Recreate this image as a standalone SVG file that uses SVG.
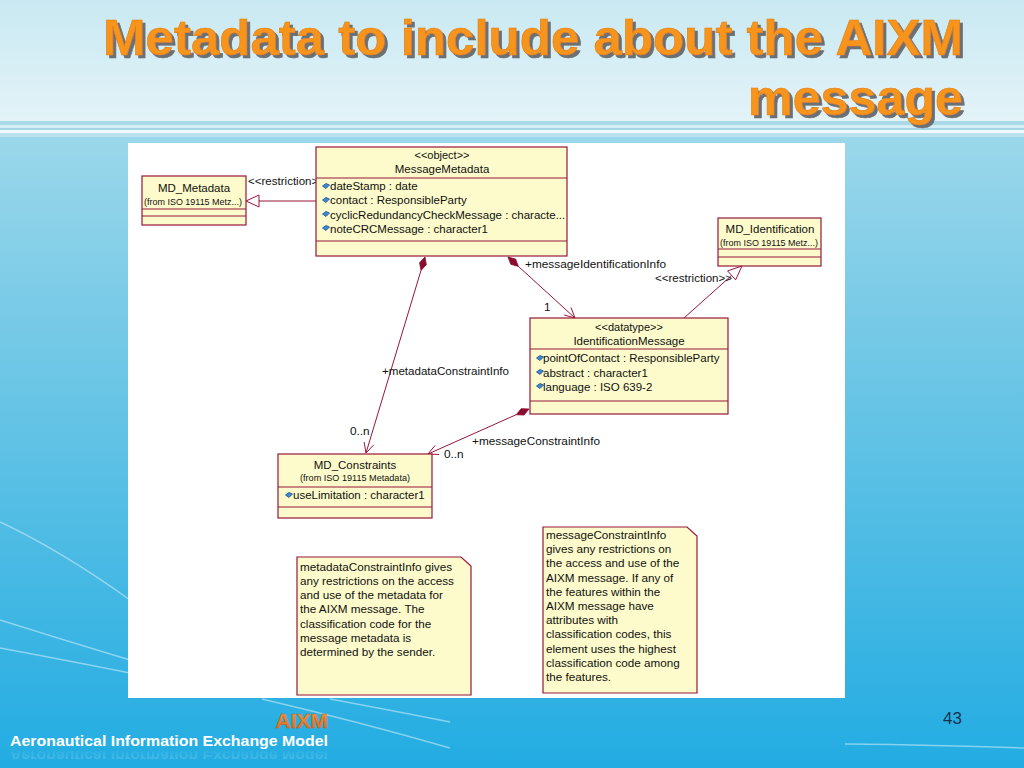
<svg xmlns="http://www.w3.org/2000/svg" width="1024" height="768" viewBox="0 0 1024 768">
<defs>
<linearGradient id="bgTop" x1="0" y1="0" x2="0" y2="1">
<stop offset="0" stop-color="#c9e9f2"/>
<stop offset="1" stop-color="#e3f3f8"/>
</linearGradient>
<linearGradient id="bgBody" x1="0" y1="0" x2="0" y2="1">
<stop offset="0" stop-color="#b6e1ed"/>
<stop offset="0.45" stop-color="#72c8e6"/>
<stop offset="1" stop-color="#22ace2"/>
</linearGradient>
<linearGradient id="aixmGrad" x1="0" y1="0" x2="0" y2="1">
<stop offset="0" stop-color="#f7a23c"/>
<stop offset="1" stop-color="#e2661a"/>
</linearGradient>
<linearGradient id="reflFade" x1="0" y1="0" x2="0" y2="1">
<stop offset="0" stop-color="#ffffff" stop-opacity="0.55"/>
<stop offset="1" stop-color="#ffffff" stop-opacity="0"/>
</linearGradient>
<filter id="titleShadow" x="-5%" y="-20%" width="110%" height="150%">
<feDropShadow dx="3" dy="3" stdDeviation="0.6" flood-color="#6a6f73" flood-opacity="1"/>
</filter>
<clipPath id="reflClip"><rect x="0" y="749" width="400" height="10"/></clipPath>
<symbol id="attr" viewBox="0 0 8 6" width="8" height="6">
<path d="M0.5 3 L4 0.5 L7.5 2 L4 5.5 Z" fill="#3c8ad8" stroke="#1d4f8a" stroke-width="0.8"/>
</symbol>
<style>
.box{fill:#fdfbcb;stroke:#98163a;stroke-width:1.2}
.sep{stroke:#98163a;stroke-width:1.2}
.t{font-family:"Liberation Sans",Arial,sans-serif;font-size:11.5px;fill:#111}
.tc{font-family:"Liberation Sans",Arial,sans-serif;font-size:11.5px;fill:#111;text-anchor:middle}
.ts{font-family:"Liberation Sans",Arial,sans-serif;font-size:9px;fill:#111;text-anchor:middle}
.st{font-family:"Liberation Sans",Arial,sans-serif;font-size:11px;fill:#111;text-anchor:middle}
.lbl{font-family:"Liberation Sans",Arial,sans-serif;font-size:11.8px;fill:#111}
.nt{font-family:"Liberation Sans",Arial,sans-serif;font-size:11.7px;fill:#111}
.ln{stroke:#98163a;stroke-width:1;fill:none}
.dia{fill:#8a0a30;stroke:#8a0a30;stroke-width:0.8}
.tri{fill:#ffffff;stroke:#98163a;stroke-width:1}
.title{font-family:"Liberation Sans",Arial,sans-serif;font-weight:bold;font-size:50px;fill:#f7941d;stroke:#e07d10;stroke-width:0.6;filter:url(#titleShadow)}
.curve{fill:none;stroke:#d6f1fa;stroke-width:1.4;opacity:0.55}
</style>
</defs>

<!-- background -->
<rect x="0" y="0" width="1024" height="768" fill="url(#bgBody)"/>
<rect x="0" y="0" width="1024" height="121" fill="url(#bgTop)"/>
<rect x="0" y="121" width="1024" height="4" fill="#a9d8e6"/>
<rect x="0" y="125" width="1024" height="3" fill="#d4eef5"/>
<rect x="0" y="128" width="1024" height="2" fill="#a6d6e5"/>
<rect x="0" y="130" width="1024" height="3" fill="#eef9fc"/>
<rect x="0" y="133" width="1024" height="4" fill="#b9e2ee"/>

<!-- decorative curves -->
<path class="curve" d="M0 522 Q60 550 130 600"/>
<path class="curve" d="M0 620 Q70 642 130 660"/>
<path class="curve" d="M0 648 Q70 661 130 673"/>
<path class="curve" d="M262 699 Q360 722 450 748"/>
<path class="curve" d="M330 699 Q400 712 450 722"/>
<path class="curve" d="M845 744 Q940 745 1024 748"/>

<!-- title -->
<text class="title" x="103" y="55" textLength="860" lengthAdjust="spacingAndGlyphs">Metadata to include about the AIXM</text>
<text class="title" x="748" y="115" textLength="215" lengthAdjust="spacingAndGlyphs">message</text>

<!-- white panel -->
<rect x="128" y="143" width="717" height="555" fill="#ffffff"/>

<!-- connectors -->
<g id="connectors">
<!-- MessageMetadata restriction MD_Metadata -->
<line class="ln" x1="316" y1="201" x2="259" y2="201"/>
<polygon class="tri" points="246,201 259,195 259,207"/>
<text class="lbl" x="248" y="185" textLength="77" lengthAdjust="spacingAndGlyphs">&lt;&lt;restriction&gt;&gt;</text>
<!-- IdentificationMessage restriction MD_Identification -->
<line class="ln" x1="684" y1="318" x2="731.6" y2="275.4"/>
<polygon class="tri" points="742,266 735.6,279.9 727.6,270.9"/>
<text class="lbl" x="655" y="282" textLength="77" lengthAdjust="spacingAndGlyphs">&lt;&lt;restriction&gt;&gt;</text>
<!-- messageIdentificationInfo -->
<line class="ln" x1="518.4" y1="266.4" x2="575" y2="318"/>
<polygon class="dia" points="508,257 515.6,259.1 518.4,266.4 510.8,264.3"/>
<polyline class="ln" points="564.2,315 575,318 571,307.6"/>
<text class="lbl" x="525" y="268" textLength="141" lengthAdjust="spacingAndGlyphs">+messageIdentificationInfo</text>
<text class="lbl" x="544" y="311">1</text>
<!-- metadataConstraintInfo -->
<line class="ln" x1="421" y1="270.4" x2="366" y2="453"/>
<polygon class="dia" points="425,257 426.3,264.7 421,270.4 419.6,262.7"/>
<polyline class="ln" points="364.1,442 366,453 373.7,444.9"/>
<text class="lbl" x="382" y="375" textLength="127" lengthAdjust="spacingAndGlyphs">+metadataConstraintInfo</text>
<text class="lbl" x="350" y="435">0..n</text>
<!-- messageConstraintInfo -->
<line class="ln" x1="516.2" y1="414.7" x2="428" y2="454"/>
<polygon class="dia" points="529,409 524,415.05 516.2,414.7 521.2,408.65"/>
<polyline class="ln" points="435.1,445.4 428,454 439.2,454.5"/>
<text class="lbl" x="472" y="445" textLength="128" lengthAdjust="spacingAndGlyphs">+messageConstraintInfo</text>
<text class="lbl" x="444" y="458">0..n</text>
</g>

<!-- MD_Metadata -->
<g id="md_metadata">
<rect class="box" x="142" y="176" width="104" height="49"/>
<line class="sep" x1="142" y1="209" x2="246" y2="209"/>
<line class="sep" x1="142" y1="216" x2="246" y2="216"/>
<text class="tc" x="194" y="192">MD_Metadata</text>
<text class="ts" x="193" y="205" textLength="98" lengthAdjust="spacingAndGlyphs">(from ISO 19115 Metz...)</text>
</g>

<!-- MessageMetadata -->
<g id="messagemetadata">
<rect class="box" x="316" y="147" width="251" height="109"/>
<line class="sep" x1="316" y1="178" x2="567" y2="178"/>
<line class="sep" x1="316" y1="241" x2="567" y2="241"/>
<text class="st" x="442" y="159">&lt;&lt;object&gt;&gt;</text>
<text class="tc" x="442" y="173">MessageMetadata</text>
<use href="#attr" x="322" y="183"/>
<text class="t" x="330" y="190">dateStamp : date</text>
<use href="#attr" x="322" y="197"/>
<text class="t" x="330" y="204">contact : ResponsibleParty</text>
<use href="#attr" x="322" y="211"/>
<text class="t" x="330" y="219">cyclicRedundancyCheckMessage : characte...</text>
<use href="#attr" x="322" y="225"/>
<text class="t" x="330" y="233">noteCRCMessage : character1</text>
</g>

<!-- MD_Identification -->
<g id="md_identification">
<rect class="box" x="718" y="218" width="103" height="48"/>
<line class="sep" x1="718" y1="249" x2="821" y2="249"/>
<line class="sep" x1="718" y1="257" x2="821" y2="257"/>
<text class="tc" x="770" y="233">MD_Identification</text>
<text class="ts" x="769" y="246" textLength="98" lengthAdjust="spacingAndGlyphs">(from ISO 19115 Metz...)</text>
</g>

<!-- IdentificationMessage -->
<g id="identificationmessage">
<rect class="box" x="530" y="318" width="198" height="96"/>
<line class="sep" x1="530" y1="349" x2="728" y2="349"/>
<line class="sep" x1="530" y1="401" x2="728" y2="401"/>
<text class="st" x="629" y="331">&lt;&lt;datatype&gt;&gt;</text>
<text class="tc" x="629" y="345">IdentificationMessage</text>
<use href="#attr" x="536" y="355"/>
<text class="t" x="543" y="362">pointOfContact : ResponsibleParty</text>
<use href="#attr" x="536" y="369"/>
<text class="t" x="543" y="377">abstract : character1</text>
<use href="#attr" x="536" y="383"/>
<text class="t" x="543" y="391">language : ISO 639-2</text>
</g>

<!-- MD_Constraints -->
<g id="md_constraints">
<rect class="box" x="278" y="454" width="154" height="64"/>
<line class="sep" x1="278" y1="487" x2="432" y2="487"/>
<line class="sep" x1="278" y1="507" x2="432" y2="507"/>
<text class="tc" x="355" y="469">MD_Constraints</text>
<text class="ts" x="355" y="481" textLength="110" lengthAdjust="spacingAndGlyphs">(from ISO 19115 Metadata)</text>
<use href="#attr" x="285" y="492"/>
<text class="t" x="293" y="499">useLimitation : character1</text>
</g>

<!-- Note 1 -->
<g id="note1">
<path class="box" d="M297 557 L461 557 L471 566 L471 695 L297 695 Z"/>
<text class="nt" x="300" y="571">metadataConstraintInfo gives</text>
<text class="nt" x="300" y="585">any restrictions on the access</text>
<text class="nt" x="300" y="599">and use of the metadata for</text>
<text class="nt" x="300" y="613">the AIXM message. The</text>
<text class="nt" x="300" y="628">classification code for the</text>
<text class="nt" x="300" y="642">message metadata is</text>
<text class="nt" x="300" y="656">determined by the sender.</text>
</g>

<!-- Note 2 -->
<g id="note2">
<path class="box" d="M543 527 L687 527 L697 536 L697 693 L543 693 Z"/>
<text class="nt" x="546" y="539">messageConstraintInfo</text>
<text class="nt" x="546" y="553">gives any restrictions on</text>
<text class="nt" x="546" y="567">the access and use of the</text>
<text class="nt" x="546" y="582">AIXM message. If any of</text>
<text class="nt" x="546" y="596">the features within the</text>
<text class="nt" x="546" y="610">AIXM message have</text>
<text class="nt" x="546" y="624">attributes with</text>
<text class="nt" x="546" y="638">classification codes, this</text>
<text class="nt" x="546" y="653">element uses the highest</text>
<text class="nt" x="546" y="667">classification code among</text>
<text class="nt" x="546" y="681">the features.</text>
</g>

<!-- footer -->
<text x="328" y="728" text-anchor="end" font-family="'Liberation Sans',Arial,sans-serif" font-weight="bold" font-size="21" fill="url(#aixmGrad)" stroke="#c55510" stroke-width="0.4">AIXM</text>
<text x="10" y="746" font-family="'Liberation Sans',Arial,sans-serif" font-weight="bold" font-size="15" fill="#ffffff" textLength="318" lengthAdjust="spacingAndGlyphs">Aeronautical Information Exchange Model</text>
<g clip-path="url(#reflClip)" opacity="0.45">
<text x="10" y="-751" transform="scale(1,-1)" font-family="'Liberation Sans',Arial,sans-serif" font-weight="bold" font-size="15" fill="url(#reflFade)" textLength="318" lengthAdjust="spacingAndGlyphs">Aeronautical Information Exchange Model</text>
</g>
<text x="962" y="724" text-anchor="end" font-family="'Liberation Sans',Arial,sans-serif" font-size="17" fill="#13324f">43</text>
</svg>
